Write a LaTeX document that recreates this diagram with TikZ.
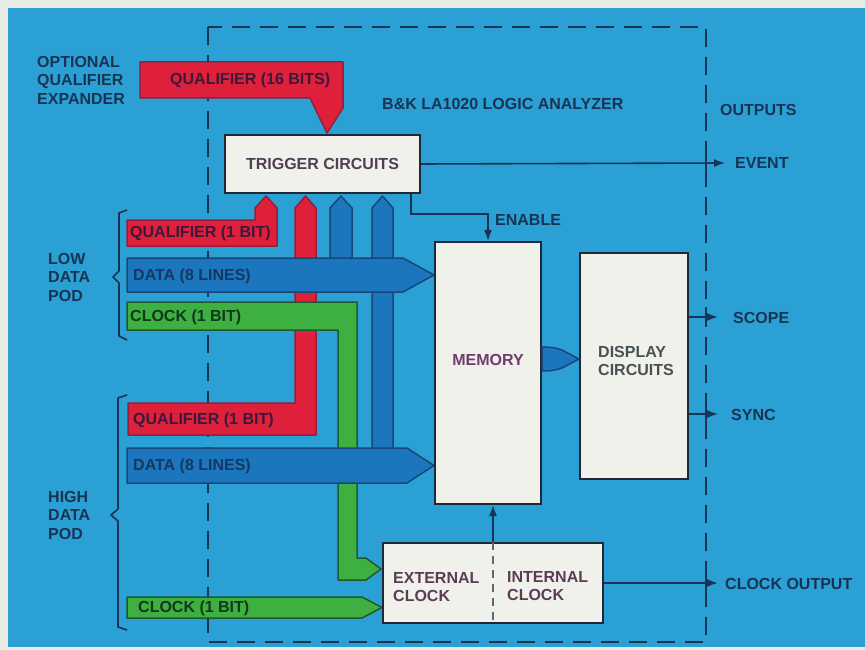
\documentclass[tikz,border=0pt]{standalone}
\usepackage{fontspec}
\setmainfont{Liberation Sans}
\usetikzlibrary{arrows.meta}
\definecolor{paper}{RGB}{232,236,230}
\definecolor{bg}{RGB}{42,160,212}
\definecolor{ink}{RGB}{24,52,84}
\definecolor{boxline}{RGB}{30,40,55}
\definecolor{boxfill}{RGB}{241,241,236}
\definecolor{busred}{RGB}{222,32,58}
\definecolor{busredline}{RGB}{150,30,60}
\definecolor{busblue}{RGB}{28,118,190}
\definecolor{busblueline}{RGB}{24,70,120}
\definecolor{busgreen}{RGB}{62,176,66}
\definecolor{busgreenline}{RGB}{30,90,45}
\definecolor{redtxt}{RGB}{60,24,60}
\definecolor{bluetxt}{RGB}{20,56,96}
\definecolor{greentxt}{RGB}{18,56,26}
\definecolor{trigtxt}{RGB}{80,62,84}
\definecolor{memtxt}{RGB}{110,60,110}
\definecolor{disptxt}{RGB}{72,82,84}
\definecolor{clktxt}{RGB}{90,60,84}
\begin{document}
\begin{tikzpicture}[x=1pt,y=-1pt,
  font=\fontsize{16}{18.5}\selectfont\bfseries,
  txt/.style={text=ink, inner sep=0pt},
  box/.style={draw=boxline, line width=2pt, fill=boxfill, inner sep=0pt},
  frame/.style={draw=ink, line width=2.8pt, dash pattern=on 18pt off 10pt},
  conn/.style={draw=ink, line width=1.6pt, -{Latex[length=11pt,width=8pt]}},
  redbus/.style={fill=busred, draw=busredline, line width=1.5pt, line join=round},
  bluebus/.style={fill=busblue, draw=busblueline, line width=1.5pt, line join=round},
  greenbus/.style={fill=busgreen, draw=busgreenline, line width=1.5pt, line join=round},
  brace/.style={draw=ink, line width=1.6pt, line join=round}]

\useasboundingbox (0,0) rectangle (865,650);
\fill[paper] (0,0) rectangle (865,650);
\fill[bg] (8,8) rectangle (865,647);

% analyzer frame
\draw[frame] (208,27) rectangle (706,642);
\foreach \yy in {163,317,414,584}
  \draw[draw=ink, line width=2.8pt] (706,\yy-10) -- (706,\yy+10);

% optional qualifier expander bus
\path[redbus] (140,62) -- (343,62) -- (343,108) -- (327,133) -- (310,98) -- (140,98) -- cycle;

% high qualifier bus with riser to trigger
\path[redbus] (128,403) -- (295,403) -- (295,208) -- (305.5,196) -- (316,208) -- (316,435) -- (128,435) -- cycle;

% low qualifier bus with riser
\path[redbus] (127,220) -- (255,220) -- (255,208) -- (266,196) -- (277,208) -- (277,246) -- (127,246) -- cycle;

% low clock bus to external clock
\path[greenbus] (127,302) -- (357,302) -- (357,558) -- (366,558) -- (381,569) -- (366,580) -- (338,580) -- (338,330) -- (127,330) -- cycle;

% blue risers
\path[bluebus] (330,272) -- (330,208) -- (341,196) -- (352,208) -- (352,272) -- cycle;
\path[bluebus] (372,460) -- (372,208) -- (382.5,196) -- (393,208) -- (393,460) -- cycle;

% low data bus
\path[bluebus] (127,258) -- (403,258) -- (434,275) -- (403,292) -- (127,292) -- cycle;
% high data bus
\path[bluebus] (127,448) -- (407,448) -- (434,465.5) -- (407,483) -- (127,483) -- cycle;
% high clock bus
\path[greenbus] (127,597) -- (362,597) -- (382,607.5) -- (362,618) -- (127,618) -- cycle;

% boxes
\node[box, minimum width=195pt, minimum height=58pt, text=trigtxt] (trig) at (322.5,164) {TRIGGER CIRCUITS};
\node[box, minimum width=106pt, minimum height=262pt] (mem) at (488,373) {};
\node[box, minimum width=108pt, minimum height=226pt] (disp) at (634,366) {};
\node[box, minimum width=220pt, minimum height=80pt] (clk) at (493,583) {};

% memory to display bus
\path[bluebus] (mem.east |- 0,347) .. controls (552,347) and (556,348) .. (562,350) -- (disp.west |- 0,359) -- (562,368) .. controls (556,370) and (552,371) .. (mem.east |- 0,371) -- cycle;

% box texts
\node[txt, text=memtxt] (memlbl) at (488,360) {MEMORY};
\node[txt, text=disptxt, align=left, anchor=west] (displbl) at (598,361) {DISPLAY\\CIRCUITS};
\node[txt, text=clktxt, align=left, anchor=west] (extlbl) at (393,587) {EXTERNAL\\CLOCK};
\node[txt, text=clktxt, align=left, anchor=west] (intlbl) at (507,586) {INTERNAL\\CLOCK};
\draw[draw=gray!70!ink, line width=1.4pt, dash pattern=on 8pt off 6pt] (clk.north) -- (clk.south);

% connectors
\coordinate (evEnd) at (725,163);
\coordinate (scEnd) at (718,317);
\coordinate (syEnd) at (718,414);
\coordinate (coEnd) at (718,583);
\draw[conn] (trig.east) -- (evEnd);
\draw[conn] ([xshift=-10pt]trig.south east) -- ++(0,20) -| (mem.north);
\draw[conn] (disp.east |- scEnd) -- (scEnd);
\draw[conn] (disp.east |- syEnd) -- (syEnd);
\draw[conn] (clk.east) -- (coEnd);
\draw[conn] (clk.north) -- (clk.north |- mem.south);

% labels
\node[txt, align=left, anchor=west] (optlbl) at (37,80) {OPTIONAL\\QUALIFIER\\EXPANDER};
\node[txt, anchor=west] (title) at (382,104) {B\&K LA1020 LOGIC ANALYZER};
\node[txt, anchor=west] (outlbl) at (720,110) {OUTPUTS};
\node[txt, anchor=west] (evlbl) at (735,163) {EVENT};
\node[txt, anchor=west] (enlbl) at (495,220) {ENABLE};
\node[txt, anchor=west] (sclbl) at (733,318) {SCOPE};
\node[txt, anchor=west] (sylbl) at (731,415) {SYNC};
\node[txt, anchor=west] (colbl) at (725,584) {CLOCK OUTPUT};
\node[txt, align=left, anchor=west] (lowlbl) at (48,277) {LOW\\DATA\\POD};
\node[txt, align=left, anchor=west] (highlbl) at (48,515) {HIGH\\DATA\\POD};

% bus labels
\node[txt, text=redtxt, anchor=west] (q16) at (170,80) {QUALIFIER (16 BITS)};
\node[txt, text=redtxt, anchor=west] (qlo) at (130,233) {QUALIFIER (1 BIT)};
\node[txt, text=bluetxt, anchor=west] (dlo) at (133,276) {DATA (8 LINES)};
\node[txt, text=greentxt, anchor=west] (clo) at (130,317) {CLOCK (1 BIT)};
\node[txt, text=redtxt, anchor=west] (qhi) at (133,420) {QUALIFIER (1 BIT)};
\node[txt, text=bluetxt, anchor=west] (dhi) at (133,466) {DATA (8 LINES)};
\node[txt, text=greentxt, anchor=west] (chi) at (138,608) {CLOCK (1 BIT)};

% pod braces
\draw[brace] (127,210) -- (119,213) -- (119,271) -- (113,277) -- (119,283) -- (119,336) -- (127,340);
\draw[brace] (127,395) -- (118,398) -- (118,509) -- (111,515) -- (118,521) -- (118,627) -- (127,630);
\end{tikzpicture}
\end{document}
